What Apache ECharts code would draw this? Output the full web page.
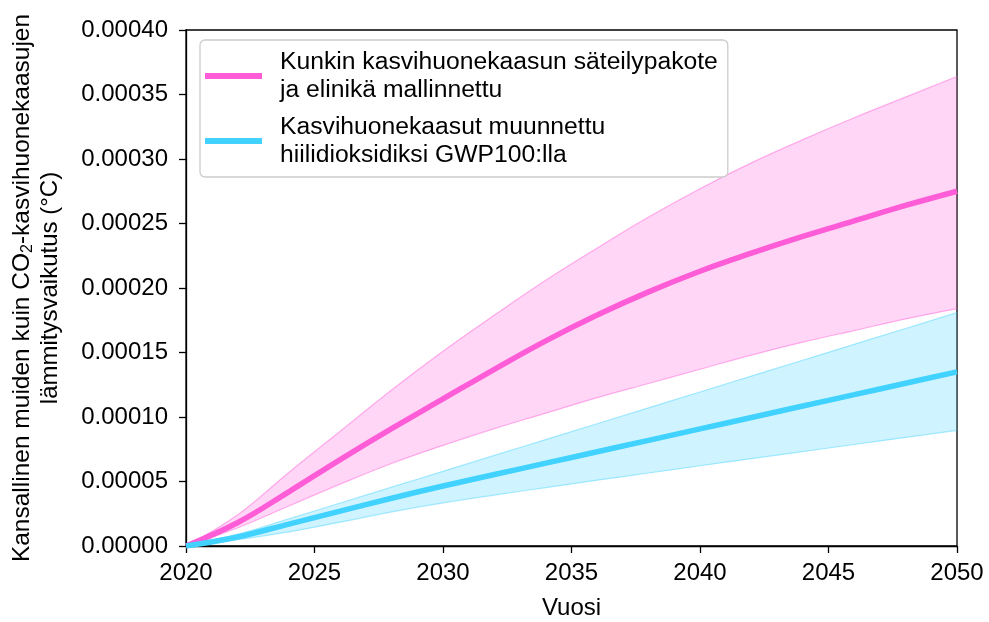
<!DOCTYPE html>
<html>
<head>
<meta charset="utf-8">
<style>
  html, body { margin: 0; padding: 0; background: #fff; }
  #chart { width: 989px; height: 622px; }
</style>
<script src="https://cdn.jsdelivr.net/npm/echarts@6/dist/echarts.min.js"></script>
</head>
<body>
<div id="chart"></div>
<script>
// Years at which the curves are sampled
const years = [2020, 2022, 2024, 2026, 2028, 2030, 2032, 2034, 2036, 2038, 2040, 2042, 2044, 2046, 2048, 2050];

// Warming modelled per gas (radiative forcing + lifetime): central value and range
const perGasMean  = [0, 0.000018, 0.000042, 0.000067, 0.000091, 0.000114, 0.000137, 0.000159, 0.000179, 0.000197, 0.000213, 0.000227, 0.000240, 0.000252, 0.000264, 0.000275];
const perGasUpper = [0, 0.000024, 0.000057, 0.000089, 0.000121, 0.000151, 0.000179, 0.000206, 0.000231, 0.000255, 0.000277, 0.000297, 0.000315, 0.000332, 0.000348, 0.000364];
const perGasLower = [0, 0.000014, 0.000031, 0.000048, 0.000064, 0.000078, 0.000091, 0.000103, 0.000115, 0.000126, 0.000137, 0.000148, 0.000158, 0.000167, 0.000176, 0.000184];

// Warming with gases converted to CO2-equivalents via GWP100
const gwpMean  = [0, 0.0000070, 0.0000170, 0.0000270, 0.0000370, 0.0000465, 0.0000554, 0.0000642, 0.0000731, 0.0000819, 0.0000908, 0.0000996, 0.0001085, 0.0001173, 0.0001262, 0.0001350];
const gwpUpper = [0, 0.0000090, 0.0000210, 0.0000333, 0.0000456, 0.0000579, 0.0000702, 0.0000825, 0.0000948, 0.0001071, 0.0001194, 0.0001317, 0.0001440, 0.0001563, 0.0001686, 0.0001809];
const gwpLower = [0, 0.0000050, 0.0000110, 0.0000185, 0.0000265, 0.0000335, 0.0000395, 0.0000453, 0.0000510, 0.0000566, 0.0000622, 0.0000677, 0.0000732, 0.0000787, 0.0000842, 0.0000897];

const xTicks = [2020, 2025, 2030, 2035, 2040, 2045, 2050];

const perGasName = 'Kunkin kasvihuonekaasun säteilypakote\nja elinikä mallinnettu';
const gwpName = 'Kasvihuonekaasut muunnettu\nhiilidioksidiksi GWP100:lla';

const PINK = '#ff5cd8';
const BLUE = '#42d2ff';
const FONT = '"Liberation Sans", Arial, Helvetica, sans-serif';
const FS = 24;
const SMOOTH = 0.4;

// Points are stored value-first so that stacking happens along the y dimension
const pairs = (vals) => years.map((y, i) => [vals[i], y]);
const spans = (hi, lo) => years.map((y, i) => [hi[i] - lo[i], y]);
const ENCODE = { x: 1, y: 0 };

function band(id, lower, upper, color) {
  const edge = { color: color, opacity: 0.45, width: 1.2 };
  return [
    {
      type: 'line', name: id + '-lower', stack: id, smooth: SMOOTH,
      showSymbol: false, silent: true, encode: ENCODE,
      data: pairs(lower),
      lineStyle: edge
    },
    {
      type: 'line', name: id + '-upper', stack: id, smooth: SMOOTH,
      showSymbol: false, silent: true, encode: ENCODE,
      data: spans(upper, lower),
      lineStyle: edge,
      areaStyle: { color: color, opacity: 0.25 }
    }
  ];
}

function meanLine(name, vals, color) {
  return {
    type: 'line', name: name, smooth: SMOOTH,
    showSymbol: false, encode: ENCODE,
    data: pairs(vals),
    color: color,
    lineStyle: { color: color, width: 5.5 }
  };
}

const chart = echarts.init(document.getElementById('chart'), null, { renderer: 'canvas' });

chart.setOption({
  animation: false,
  textStyle: { fontFamily: FONT },
  grid: {
    left: 186, right: 32, top: 30, bottom: 76,
    outerBoundsMode: 'none',
    show: true, borderColor: '#000', borderWidth: 1.3, backgroundColor: 'transparent'
  },
  legend: {
    left: 200, top: 40,
    orient: 'vertical',
    data: [perGasName, gwpName],
    icon: 'rect',
    itemWidth: 57, itemHeight: 6,
    itemGap: 9,
    padding: [8, 10, 8, 5],
    backgroundColor: 'rgba(255,255,255,0.85)',
    borderColor: '#cccccc', borderWidth: 1.3, borderRadius: 5,
    textStyle: { fontFamily: FONT, fontSize: 24.7, color: '#000', lineHeight: 28, padding: [0, 0, 0, 13] }
  },
  xAxis: {
    type: 'value', min: 2020, max: 2050, interval: 5,
    name: 'Vuosi', nameLocation: 'middle', nameGap: 50,
    nameTextStyle: { fontFamily: FONT, fontSize: FS, color: '#000' },
    axisLine: { show: true, lineStyle: { color: '#000', width: 1.3 } },
    axisTick: { show: true, inside: false, length: 7, lineStyle: { color: '#000', width: 1.3 } },
    axisLabel: {
      fontFamily: FONT, fontSize: FS, color: '#000', margin: 15,
      formatter: (v) => xTicks.includes(v) ? String(v) : ''
    },
    splitLine: { show: false }
  },
  yAxis: {
    type: 'value', min: 0, max: 0.0004, interval: 0.00005,
    name: '{b|Kansallinen muiden kuin CO}{s|2}{b|-kasvihuonekaasujen}\n{a|lämmitysvaikutus (°C)}',
    nameLocation: 'middle', nameGap: 122, nameRotate: 90,
    nameTextStyle: {
      fontFamily: FONT, fontSize: FS, color: '#000', lineHeight: 28,
      rich: {
        a: { fontFamily: FONT, fontSize: FS, color: '#000', lineHeight: 28 },
        b: { fontFamily: FONT, fontSize: 24.5, color: '#000', lineHeight: 28 },
        s: { fontFamily: FONT, fontSize: 16, color: '#000', lineHeight: 28, padding: [11, 0, 0, 0] }
      }
    },
    axisLine: { show: true, lineStyle: { color: '#000', width: 1.3 } },
    axisTick: { show: true, inside: false, length: 7, lineStyle: { color: '#000', width: 1.3 } },
    axisLabel: {
      fontFamily: FONT, fontSize: FS, color: '#000', margin: 18,
      formatter: (v) => v.toFixed(5)
    },
    splitLine: { show: false }
  },
  series: [
    ...band('pinkBand', perGasLower, perGasUpper, PINK),
    meanLine(perGasName, perGasMean, PINK),
    ...band('blueBand', gwpLower, gwpUpper, BLUE),
    meanLine(gwpName, gwpMean, BLUE)
  ]
});
</script>
</body>
</html>
